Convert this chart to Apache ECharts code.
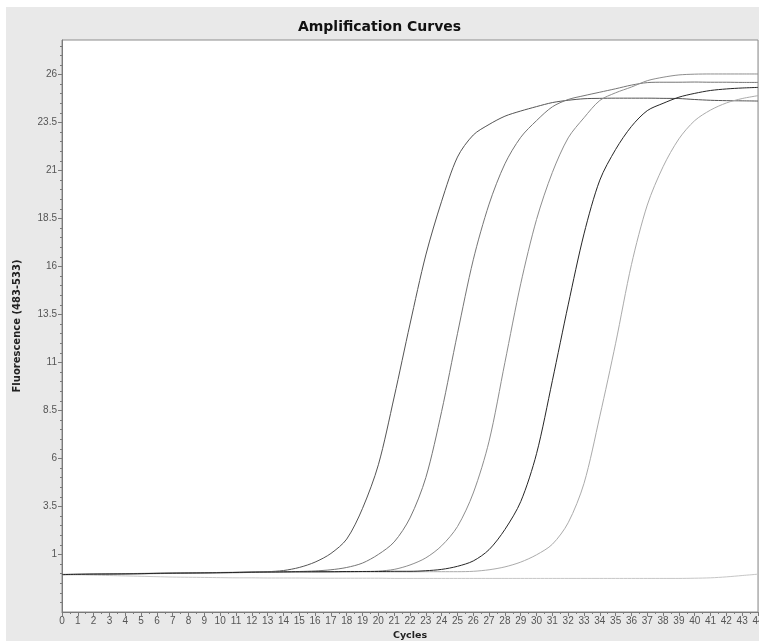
<!DOCTYPE html>
<html><head><meta charset="utf-8">
<script src="https://cdn.jsdelivr.net/npm/echarts@6/dist/echarts.min.js"></script>
<style>html,body{margin:0;padding:0;background:#fff;overflow:hidden;width:759px;height:641px}#c{width:759px;height:641px;display:block}</style>
</head><body><div id="c"></div>
<script>
// Cycle numbers (x)
const cycles = [0,1,2,3,4,5,6,7,8,9,10,11,12,13,14,15,16,17,18,19,20,21,22,23,24,25,26,27,28,29,30,31,32,33,34,35,36,37,38,39,40,41,42,43,44];
// Fluorescence values, one per cycle
const curve1 = [-0.05,-0.04,-0.03,-0.02,-0.01,0.00,0.01,0.02,0.03,0.04,0.05,0.06,0.08,0.10,
  0.16,0.32,0.60,1.05,1.80,3.40,5.67,9.20,13.00,16.60,19.40,21.70,22.85,23.40,23.83,24.10,24.33,24.54,24.66,24.74,24.76,24.77,24.77,24.77,24.76,24.75,24.70,24.66,24.64,24.63,24.62];
const curve2 = [-0.04,-0.03,-0.02,-0.01,0.00,0.01,0.02,0.03,0.04,0.05,0.06,0.07,0.08,0.09,0.10,0.11,0.14,
  0.20,0.32,0.55,1.00,1.65,2.90,5.00,8.45,12.50,16.35,19.25,21.35,22.73,23.60,24.32,24.70,24.90,25.08,25.26,25.45,25.58,25.60,25.60,25.61,25.60,25.60,25.59,25.59];
const curve3 = [-0.06,-0.05,-0.04,-0.03,-0.02,-0.01,0.00,0.01,0.02,0.03,0.04,0.05,0.06,0.07,0.08,0.09,0.09,0.10,0.10,0.11,
  0.13,0.22,0.45,0.82,1.45,2.45,4.20,6.90,11.00,15.10,18.45,20.90,22.70,23.75,24.65,25.05,25.35,25.68,25.86,25.98,26.02,26.03,26.03,26.03,26.03];
const curve4 = [-0.05,-0.04,-0.03,-0.02,-0.01,0.00,0.01,0.02,0.03,0.04,0.05,0.06,0.07,0.08,0.09,0.10,0.10,0.10,0.11,0.11,0.11,0.12,0.12,
  0.15,0.22,0.38,0.66,1.25,2.30,3.75,6.25,10.05,14.00,17.70,20.50,22.10,23.30,24.12,24.50,24.82,25.02,25.17,25.25,25.30,25.33];
const curve5 = [-0.05,-0.04,-0.03,-0.02,-0.01,0.00,0.01,0.02,0.03,0.04,0.05,0.05,0.06,0.06,0.07,0.07,0.08,0.08,0.08,0.09,0.09,0.09,0.09,0.10,0.10,0.10,
  0.12,0.20,0.35,0.60,0.98,1.53,2.65,4.70,8.20,12.00,16.10,19.20,21.20,22.65,23.60,24.15,24.52,24.75,24.90];
const negControl = [-0.05,-0.06,-0.08,-0.10,-0.12,-0.14,-0.16,-0.18,-0.19,-0.20,-0.21,-0.22,-0.22,-0.23,-0.23,-0.23,-0.24,-0.24,-0.24,-0.24,-0.24,
  -0.25,-0.25,-0.25,-0.25,-0.25,-0.25,-0.25,-0.25,-0.25,-0.25,-0.25,-0.25,-0.25,-0.25,-0.25,-0.25,-0.25,-0.25,-0.25,
  -0.24,-0.22,-0.17,-0.10,-0.03];
// Tick labels
const yTickLabels = [1,3.5,6,8.5,11,13.5,16,18.5,21,23.5,26];
const seriesList = [curve1, curve2, curve3, curve4, curve5, negControl];
const seriesColors = ['#555555','#767676','#8e8e8e','#262626','#ababab','#c6c6c6'];

const yMin = -2.0, yMax = 27.8;
const minorY = [];
for (let v = -1.5; v <= 27.5; v += 0.5) minorY.push(v);

const chart = echarts.init(document.getElementById('c'), null, {renderer:'canvas', width: 759, height: 641});
const axisColor = '#7a7a7a';
const option = {
  backgroundColor: '#e9e9e9',
  animation: false,
  title: {
    text: 'Amplification Curves', left: 'center', top: 15,
    textStyle: {fontFamily: 'DejaVu Sans', fontWeight: 'bold', fontSize: 14, color: '#111'}
  },
  graphic: [
    {type: 'rect', left: 0, top: 0, shape: {width: 759, height: 7}, style: {fill: '#ffffff'}, silent: true},
    {type: 'rect', left: 0, top: 0, shape: {width: 6, height: 641}, style: {fill: '#ffffff'}, silent: true}
  ],
  grid: {left: 62, right: 1, top: 40, bottom: 29, outerBoundsMode: 'none', containLabel: false, show: true, backgroundColor: '#ffffff', borderColor: '#8c8c8c', borderWidth: 1},
  xAxis: {
    type: 'value', min: 0, max: 44, interval: 1,
    name: 'Cycles', nameLocation: 'middle', nameGap: 17,
    nameTextStyle: {fontFamily: 'DejaVu Sans', fontWeight: 'bold', fontSize: 9.5, color: '#222'},
    axisLine: {onZero: false, lineStyle: {color: axisColor}},
    axisTick: {length: 4, lineStyle: {color: axisColor}},
    minorTick: {show: true, splitNumber: 2, length: 2, lineStyle: {color: axisColor}},
    axisLabel: {fontFamily: 'Liberation Sans', fontSize: 10, color: '#555', margin: 4, hideOverlap: false},
    splitLine: {show: false}
  },
  yAxis: [
    {
      type: 'value', min: yMin, max: yMax, position: 'left',
      name: 'Fluorescence (483-533)', nameLocation: 'middle', nameGap: 40,
      nameTextStyle: {fontFamily: 'DejaVu Sans', fontWeight: 'bold', fontSize: 10, color: '#222'},
      axisLine: {show: true, onZero: false, lineStyle: {color: axisColor}},
      axisTick: {show: true, length: 4, customValues: yTickLabels, lineStyle: {color: axisColor}},
      axisLabel: {fontFamily: 'Liberation Sans', fontSize: 10, color: '#555', margin: 5, customValues: yTickLabels},
      splitLine: {show: false}
    },
    {
      type: 'value', min: yMin, max: yMax, position: 'left',
      axisLine: {show: false, onZero: false},
      axisTick: {show: true, length: 2, customValues: minorY, lineStyle: {color: axisColor}},
      axisLabel: {show: false},
      splitLine: {show: false}
    }
  ],
  series: seriesList.map((vals, i) => ({
    type: 'line',
    yAxisIndex: 0,
    data: cycles.map((c, k) => [c, vals[k]]),
    showSymbol: false,
    smooth: 0.3,
    lineStyle: {width: 1, color: seriesColors[i]},
    z: i === 3 ? 5 : 3
  }))
};
chart.setOption(option);
</script>
</body></html>
